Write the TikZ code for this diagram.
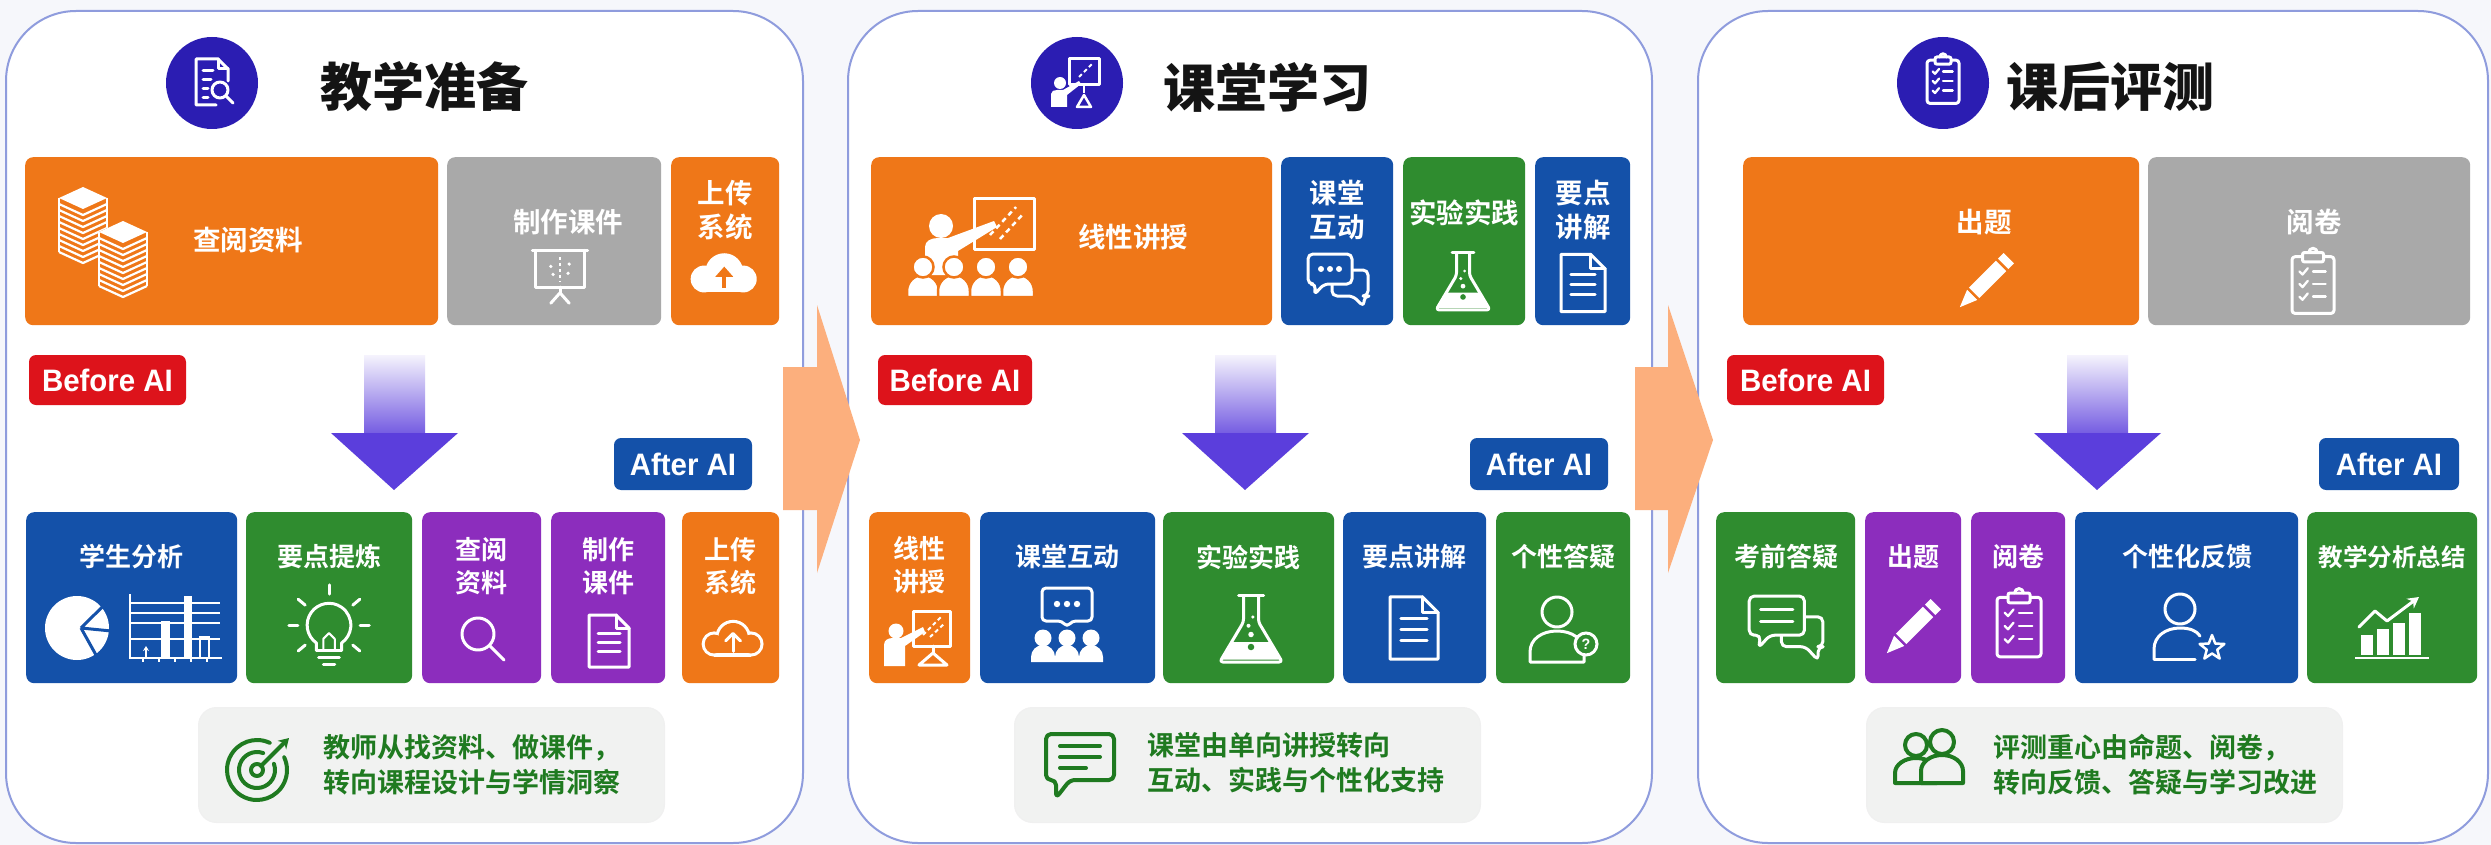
\documentclass[tikz,border=0pt]{standalone}
\usepackage{fontspec}
\setmainfont{Liberation Sans}
\newfontfamily\cjk{Noto Sans CJK SC Bold}
\newfontfamily\cjkheavy{Noto Sans CJK SC Black}
\newfontfamily\tagfont{Liberation Sans Bold}[FakeStretch=0.95]
\usetikzlibrary{calc,arrows.meta}

\definecolor{bgc}{HTML}{F6F7FB}
\definecolor{panelline}{HTML}{8F9CDD}
\definecolor{cOrange}{HTML}{EF7718}
\definecolor{cGray}{HTML}{A9A9A9}
\definecolor{cBlue}{HTML}{1451A9}
\definecolor{cGreen}{HTML}{2F8C2F}
\definecolor{cPurple}{HTML}{8C2DBD}
\definecolor{cRed}{HTML}{DD131B}
\definecolor{cIndigo}{HTML}{2B1DB2}
\definecolor{cArrow}{HTML}{5B3EDC}
\definecolor{cPeach}{HTML}{FCAF7D}
\definecolor{cSum}{HTML}{F1F2F1}
\definecolor{cSumText}{HTML}{1F7A20}
\definecolor{cTitle}{HTML}{141414}

\tikzset{
  panel/.style={draw=panelline, line width=2pt, fill=white, rounded corners=70pt,
    minimum width=#1, minimum height=832, anchor=north west, inner sep=0pt},
  tile/.style={rounded corners=8pt, inner sep=0pt},
  badge/.style={circle, fill=cIndigo, minimum size=92, inner sep=0pt},
  ttl/.style={anchor=west, inner sep=0pt, text=cTitle, font=\cjkheavy\fontsize{52}{60}\selectfont},
  lbl/.style={inner sep=0pt, text=white, align=center, font=\cjk\fontsize{26}{33}\selectfont},
  lblt/.style={lbl, font=\cjk\fontsize{27.5}{34}\selectfont},
  tag/.style={rounded corners=7pt, inner sep=0pt, text=white, minimum height=50,
    font=\tagfont\fontsize{31}{31}\selectfont},
  sumbox/.style={fill=cSum, draw=black!6, line width=1pt, rounded corners=18pt,
    anchor=north west, minimum height=115, inner sep=0pt},
  sumtxt/.style={anchor=west, inner sep=0pt, text=cSumText, align=left,
    font=\cjk\fontsize{27}{35}\selectfont},
  ic/.style={draw=white, line width=3pt, line cap=round, line join=round},
  gic/.style={draw=cSumText, line width=4pt, line cap=round, line join=round},
  ico/.style={yscale=-1},
  % ---------- icons, drawn with y pointing up ----------
  pics/paperstack/.style={code={
    \foreach \sx/\sy in {-20/42, 20/8} {
      \begin{scope}[shift={(\sx,\sy)}]
        \fill[#1] (-24,0) -- (0,11) -- (24,0) -- (24,-56) -- (0,-67) -- (-24,-56) -- cycle;
        \fill[white] (-24,0) -- (0,11) -- (24,0) -- (0,-11) -- cycle;
        \foreach \k in {1,...,9}
          \draw[white, line width=2.2pt, line join=round] (-24,-6*\k) -- (0,-6*\k-11) -- (24,-6*\k);
        \draw[white, line width=2.2pt] (-24,0) -- (-24,-54) (24,0) -- (24,-54);
      \end{scope}
    }
  }},
  pics/easel/.style={code={
    \draw[ic] (-24,18) -- (24,18);
    \draw[ic] (-21,18) -- (-21,-14) -- (21,-14) -- (21,18);
    \draw[ic] (0,-14) -- (0,-19);
    \draw[ic] (-8,-28) -- (0,-19) -- (8,-28);
    \draw[white, line width=2pt, dash pattern=on 3pt off 3pt] (0,12) -- (0,-9);
    \fill[white] (-8,4) circle (1.6) (-6,-3) circle (1.6) (8,6) circle (1.6) (7,-2) circle (1.6);
  }},
  pics/cloudfill/.style={code={
    \fill[white] (-16,0) circle (12);
    \fill[white] (2,6) circle (17);
    \fill[white] (19,0) circle (12);
    \fill[white] (-16,-12) rectangle (19,2);
    \draw[#1, line width=4pt] (2,-8) -- (2,4);
    \fill[#1] (-6,2) -- (2,11) -- (10,2) -- cycle;
  }},
  pics/cloudline/.style={code={
    \fill[white] (-16,0) circle (12);
    \fill[white] (2,6) circle (17);
    \fill[white] (19,0) circle (12);
    \fill[white] (-16,-12) rectangle (19,2);
    \fill[#1] (-16,0) circle (9);
    \fill[#1] (2,6) circle (14);
    \fill[#1] (19,0) circle (9);
    \fill[#1] (-16,-9) rectangle (19,2);
    \draw[ic] (2,-7) -- (2,9);
    \draw[ic] (-5,3) -- (2,10) -- (9,3);
  }},
  pics/docicon/.style={code={
    \draw[ic] (-20,26) -- (7,26) -- (20,13) -- (20,-26) -- (-20,-26) -- cycle;
    \draw[ic] (7,26) -- (7,13) -- (20,13);
    \draw[ic] (-11,8) -- (11,8) (-11,-1) -- (11,-1) (-11,-10) -- (11,-10);
  }},
  pics/magnifier/.style={code={
    \draw[ic] (-6,6) circle (16);
    \draw[ic] (5.5,-5.5) -- (20,-20);
  }},
  pics/bulb/.style={code={
    \draw[ic] (-10.9,-16) -- (-10.9,-9.6) arc[start angle=235, end angle=-55, radius=19] -- (10.9,-16);
    \draw[ic] (-10.9,-16) -- (10.9,-16) (-9,-22) -- (9,-22) (-5,-28) -- (5,-28);
    \draw[white, line width=2pt, line join=round] (-5,-16) -- (-5,-6) -- (0,-1) -- (5,-6) -- (5,-16);
    \begin{scope}[shift={(0,6)}]
      \foreach \a in {90,40,140,0,180,-40,220} \draw[ic] (\a:27) -- (\a:35);
    \end{scope}
  }},
  pics/pie/.style={code={
    \fill[white] (0,0) circle (32);
    \draw[#1, line width=3pt] (4,0) -- (40:34) (4,0) -- (-5:34) (4,0) -- (-55:34);
  }},
  pics/barchart/.style={code={
    \draw[white, line width=1.6pt] (-43,24) -- (47,24) (-43,14) -- (47,14) (-43,4) -- (47,4) (-43,-12) -- (47,-12);
    \draw[white, line width=2.5pt] (-43,33) -- (-43,-31) -- (49,-31);
    \foreach \tx in {-30,-14,2,18,34} \draw[white, line width=1.6pt] (\tx,-31) -- (\tx,-35);
    \fill[white] (-12,-31) rectangle (-3,6);
    \fill[white] (11,-31) rectangle (19,31);
    \draw[white, line width=2pt] (27,-31) -- (27,-10) -- (36,-10) -- (36,-31);
    \draw[white, line width=2pt, -{Stealth[length=5pt,width=6pt]}] (-27,-31) -- (-27,-19);
  }},
  pics/teachgroup/.style={code={
    \draw[ic] (2,-2) rectangle (62,48);
    \draw[white, line width=2.5pt, dash pattern=on 5pt off 4pt] (18,12) -- (44,40) (28,8) -- (52,34);
    \fill[white] (-31,21) circle (12);
    \fill[white] (-47,-28) -- (-47,0) .. controls (-47,6) and (-41,9) .. (-34,9) -- (-24,9)
      -- (22,26) -- (25,20) -- (-14,-4) -- (-14,-28) -- cycle;
    \foreach \px in {-49,-18,14,46} {
      \filldraw[fill=white, draw=#1, line width=2.5pt] (\px-16,-50) -- (\px-16,-44)
        arc[start angle=180, end angle=0, radius=16] -- (\px+16,-50) -- cycle;
      \filldraw[fill=white, draw=#1, line width=2.5pt] (\px,-20) circle (10.5);
    }
  }},
  pics/smallteach/.style={code={
    \draw[ic] (-2,-9) rectangle (35,26);
    \draw[white, line width=2pt, dash pattern=on 4pt off 3pt] (8,2) -- (26,20) (15,0) -- (30,14);
    \draw[ic] (18,-9) -- (18,-16);
    \draw[ic] (4,-28) -- (18,-16) -- (32,-28) -- cycle;
    \fill[white] (-19,6) circle (7.5);
    \fill[white] (-31,-29) -- (-31,-8) .. controls (-31,-3) and (-27,-1) .. (-22,-1) -- (-14,-1)
      -- (8,10) -- (10,5) -- (-10,-9) -- (-10,-29) -- cycle;
  }},
  pics/chat2/.style={code={
    \filldraw[fill=#1, draw=white, line width=3pt, line join=round, rounded corners=5pt]
      (-6,10) -- (30,10) -- (30,-16) -- (26,-16) -- (26,-27) -- (15,-16) -- (-6,-16) -- cycle;
    \filldraw[fill=#1, draw=white, line width=3pt, line join=round, rounded corners=5pt]
      (-30,26) -- (14,26) -- (14,-4) -- (-14,-4) -- (-24,-15) -- (-22,-4) -- (-30,-4) -- cycle;
    \fill[white] (-17,11) circle (3) (-8,11) circle (3) (1,11) circle (3);
  }},
  pics/chatlines/.style={code={
    \filldraw[fill=#1, draw=white, line width=3pt, line join=round, rounded corners=5pt]
      (-4,8) -- (32,8) -- (32,-18) -- (28,-18) -- (28,-30) -- (17,-18) -- (-4,-18) -- cycle;
    \filldraw[fill=#1, draw=white, line width=3pt, line join=round, rounded corners=5pt]
      (-32,26) -- (16,26) -- (16,-8) -- (-14,-8) -- (-24,-19) -- (-22,-8) -- (-32,-8) -- cycle;
    \draw[ic] (-22,14) -- (6,14) (-22,4) -- (6,4);
  }},
  pics/chatpeople/.style={code={
    \draw[ic, rounded corners=4pt] (-25,5) -- (-5,5) -- (0,-1) -- (5,5) -- (25,5) -- (25,38) -- (-25,38) -- cycle;
    \fill[white] (-10,22) circle (3.2) (0,22) circle (3.2) (10,22) circle (3.2);
    \foreach \px in {-24,0,24} {
      \fill[white] (\px,-12) circle (8.5);
      \fill[white] (\px-12,-36) -- (\px-12,-31) arc[start angle=180, end angle=0, radius=12] -- (\px+12,-36) -- cycle;
    }
  }},
  pics/flask/.style={code={
    \fill[white] (-15.5,-8) -- (15.5,-8) -- (23,-22) -- (-23,-22) -- cycle;
    \draw[ic] (-10,29) -- (10,29);
    \draw[ic, rounded corners=3pt] (-6,29) -- (-6,8) -- (-25,-24) -- (25,-24) -- (6,8) -- (6,29);
    \fill[#1] (0,-12) circle (2.6);
    \fill[white] (0,-2) circle (2.2) (-2,5) circle (1.6) (1.5,12) circle (1.4);
  }},
  pics/personq/.style={code={
    \draw[ic] (-7,18) circle (15);
    \draw[ic] (-34,-32) -- (-34,-22) .. controls (-34,-9) and (-22,-1) .. (-7,-1)
      .. controls (8,-1) and (20,-9) .. (20,-22) -- (20,-32) -- cycle;
    \filldraw[fill=#1, draw=white, line width=3pt] (22,-14) circle (11);
    \node[text=white, inner sep=0pt, font=\tagfont\fontsize{15}{15}\selectfont] (qmk) at (22,-14) {?};
  }},
  pics/personstar/.style={code={
    \draw[ic] (-6,18) circle (15);
    \draw[ic] (-32,-32) -- (-32,-22) .. controls (-32,-9) and (-20,-1) .. (-6,-1)
      .. controls (4,-1) and (11,-4) .. (14,-9);
    \draw[ic] (-32,-32) -- (9,-32);
    \begin{scope}[shift={(26,-21)}]
      \draw[white, line width=2.5pt, line join=round] (90:13) -- (126:5.5) -- (162:13) -- (198:5.5)
        -- (234:13) -- (270:5.5) -- (306:13) -- (342:5.5) -- (18:13) -- (54:5.5) -- cycle;
    \end{scope}
  }},
  % the tip points to the lower left
  pics/pencil/.style={code={
    \begin{scope}[rotate=-45]
      \fill[white] (-20,-7) rectangle (28,7);
      \fill[white] (-21,-7) -- (-38,0) -- (-21,7) -- cycle;
      \draw[#1, line width=2.5pt] (-20,-8) -- (-20,8);
      \draw[#1, line width=2.5pt] (19,-8) -- (19,8);
    \end{scope}
  }},
  pics/clipboard/.style={code={
    \draw[ic, rounded corners=3pt] (-20,26) -- (-20,-28) -- (20,-28) -- (20,26) -- cycle;
    \filldraw[fill=#1, draw=white, line width=3pt, rounded corners=2pt] (-10,21) rectangle (10,30);
    \draw[ic] (-4,30) arc[start angle=180, end angle=0, radius=4];
    \foreach \yy in {12,0,-12} {
      \draw[white, line width=2.3pt, line cap=round, line join=round] (-13,\yy) -- (-10,\yy-3) -- (-5,\yy+3);
      \draw[white, line width=2.3pt, line cap=round] (0,\yy) -- (12,\yy);
    }
  }},
  pics/trendbars/.style={code={
    \fill[white] (-32,-28) rectangle (-20,-8);
    \fill[white] (-16,-28) rectangle (-4,-2);
    \fill[white] (0,-28) rectangle (12,4);
    \fill[white] (16,-28) rectangle (28,14);
    \draw[white, line width=2.5pt] (-38,-31) -- (36,-31);
    \draw[ic, -{Stealth[length=11pt, width=12pt]}] (-34,0) -- (-18,16) -- (-6,6) -- (26,30);
  }},
  pics/ttldoc/.style={code={
    \draw[ic] (4,-22) -- (-16,-22) -- (-16,24) -- (6,24) -- (16,14) -- (16,2);
    \draw[ic] (6,24) -- (6,14) -- (16,14);
    \draw[ic] (-9,12) -- (1,12) (-9,3) -- (-1,3) (-9,-6) -- (-4,-6) (-9,-15) -- (-4,-15);
    \draw[ic] (8,-7) circle (8);
    \draw[ic] (14,-13) -- (21,-20);
  }},
  pics/ttlteach/.style={code={
    \draw[ic] (-8,-2) rectangle (22,24);
    \draw[white, line width=2pt, dash pattern=on 4pt off 3pt] (2,6) -- (15,19);
    \fill[white] (-17,0) circle (6);
    \fill[white] (-26,-24) -- (-26,-11) .. controls (-26,-8) and (-23,-7) .. (-20,-7) -- (-14,-7)
      -- (2,2) -- (4,-1) -- (-10,-12) -- (-10,-24) -- cycle;
    \draw[white, line width=2.5pt] (7,-2) -- (7,-10);
    \draw[white, line width=2.5pt, line join=round] (0,-24) -- (7,-12) -- (14,-24) -- cycle;
  }},
  pics/target/.style={code={
    \draw[gic] (65:30) arc[start angle=65, end angle=385, radius=30];
    \draw[gic] (70:18) arc[start angle=70, end angle=380, radius=18];
    \draw[gic] (0,0) circle (6);
    \draw[gic, -{Stealth[length=10pt, width=12pt]}] (4,4) -- (32,32);
  }},
  pics/bubblelines/.style={code={
    \draw[gic, rounded corners=5pt] (-10,-14) -- (34,-14) -- (34,32) -- (-34,32) -- (-34,-14)
      -- (-24,-14) -- (-24,-32) -- cycle;
    \draw[gic] (-20,20) -- (20,20) (-20,9) -- (20,9) (-20,-2) -- (6,-2);
  }},
  pics/twopeople/.style={code={
    \draw[gic] (-14,13) circle (11);
    \draw[gic] (-35,-25) -- (-35,-15) arc[start angle=180, end angle=0, x radius=21, y radius=15] -- (7,-25) -- cycle;
    \filldraw[gic, fill=cSum] (-9,-25) -- (-9,-13) arc[start angle=180, end angle=0, x radius=21, y radius=16] -- (33,-25) -- cycle;
    \filldraw[gic, fill=cSum] (12,16) circle (12);
  }},
}

% a tile: name, left, top, right, bottom, colour
\newcommand\tilebox[6]{\node[tile, fill=#6, anchor=north west, minimum width={(#4)-(#2)},
  minimum height={(#5)-(#3)}] (#1) at (#2,#3) {};}
% a downward arrow starting at a named coordinate
\newcommand\downarr[1]{%
  \shade[top color=cArrow!6, bottom color=cArrow!85] ($(#1)+(-30,0)$) rectangle ($(#1)+(31,79)$);
  \fill[cArrow] ($(#1)+(-63,78)$) -- ($(#1)+(64,78)$) -- ($(#1)+(0,135)$) -- cycle;}

\begin{document}
\begin{tikzpicture}[x=1pt, y=-1pt]
\fill[bgc] (0,0) rectangle (2491,845);
\useasboundingbox (0,0) rectangle (2491,845);

% ---------------- panels ----------------
\node[panel=797] (pan1) at (5,10) {};
\node[panel=804] (pan2) at (847,10) {};
\node[panel=790] (pan3) at (1697,10) {};

% stage arrows between the panels
\fill[cPeach] (783,367) -- (817,367) -- (817,305) -- (860,440) -- (817,573) -- (817,510) -- (783,510) -- cycle;
\fill[cPeach] (1635,367) -- (1668,367) -- (1668,305) -- (1713,440) -- (1668,573) -- (1668,510) -- (1635,510) -- cycle;

% ================= panel 1 =================
\node[badge] (bd1) at (212,83) {};
\pic[ico] at (212,83) {ttldoc};
\node[ttl] (tt1) at (320,87) {教学准备};

\tilebox{a11}{25}{157}{438}{325}{cOrange}
\tilebox{a12}{447}{157}{661}{325}{cGray}
\tilebox{a13}{671}{157}{779}{325}{cOrange}
\pic[ico] at (103,240) {paperstack=cOrange};
\node[lblt] (l11) at (248,240) {查阅资料};
\node[lblt] (l12) at (568,222) {制作课件};
\pic[ico, scale=1.15] at (560,271) {easel};
\node[lblt] (l13) at (725,210) {上传\\系统};
\pic[ico, scale=1.12] at (722,279) {cloudfill=cOrange};

\node[tag, fill=cRed, minimum width=157] (bf1) at (107.5,380) {Before AI};
\coordinate (d1) at (394,355);
\downarr{d1}
\node[tag, fill=cBlue, minimum width=138, minimum height=52] (af1) at (683,464) {After AI};

\tilebox{b11}{26}{512}{237}{683}{cBlue}
\tilebox{b12}{246}{512}{412}{683}{cGreen}
\tilebox{b13}{422}{512}{541}{683}{cPurple}
\tilebox{b14}{551}{512}{665}{683}{cPurple}
\tilebox{b15}{682}{512}{779}{683}{cOrange}
\node[lbl] (m11) at (131,557) {学生分析};
\pic[ico] at (77,628) {pie=cBlue};
\pic[ico] at (173,627) {barchart};
\node[lbl] (m12) at (329,557) {要点提炼};
\pic[ico, scale=1.15] at (329,632) {bulb};
\node[lbl] (m13) at (481,566) {查阅\\资料};
\pic[ico] at (484,640) {magnifier};
\node[lbl] (m14) at (608,566) {制作\\课件};
\pic[ico] at (609,641) {docicon};
\node[lbl] (m15) at (730,566) {上传\\系统};
\pic[ico, scale=1.05] at (731,644) {cloudline=cOrange};

\node[sumbox, minimum width=466] (s1) at (198,707) {};
\pic[ico] at (257,770) {target};
\node[sumtxt] (w1) at (323,765) {教师从找资料、做课件，\\转向课程设计与学情洞察};

% ================= panel 2 =================
\node[badge] (bd2) at (1077,83) {};
\pic[ico] at (1077,83) {ttlteach};
\node[ttl] (tt2) at (1163,87) {课堂学习};

\tilebox{a21}{871}{157}{1272}{325}{cOrange}
\tilebox{a22}{1281}{157}{1393}{325}{cBlue}
\tilebox{a23}{1403}{157}{1525}{325}{cGreen}
\tilebox{a24}{1535}{157}{1630}{325}{cBlue}
\pic[ico] at (972,247) {teachgroup=cOrange};
\node[lblt] (l21) at (1133,237) {线性讲授};
\node[lblt] (l22) at (1337,210) {课堂\\互动};
\pic[ico] at (1338,280) {chat2=cBlue};
\node[lblt] (l23) at (1464,213) {实验实践};
\pic[ico, scale=1.08] at (1463,284) {flask=cGreen};
\node[lblt] (l24) at (1583,210) {要点\\讲解};
\pic[ico, scale=1.1] at (1583,283) {docicon};

\node[tag, fill=cRed, minimum width=154] (bf2) at (955,380) {Before AI};
\coordinate (d2) at (1245,355);
\downarr{d2}
\node[tag, fill=cBlue, minimum width=138, minimum height=52] (af2) at (1539,464) {After AI};

\tilebox{b21}{869}{512}{970}{683}{cOrange}
\tilebox{b22}{980}{512}{1155}{683}{cBlue}
\tilebox{b23}{1163}{512}{1334}{683}{cGreen}
\tilebox{b24}{1343}{512}{1486}{683}{cBlue}
\tilebox{b25}{1496}{512}{1630}{683}{cGreen}
\node[lbl] (m21) at (919,565) {线性\\讲授};
\pic[ico] at (915,637) {smallteach};
\node[lbl] (m22) at (1067,557) {课堂互动};
\pic[ico] at (1067,626) {chatpeople};
\node[lbl] (m23) at (1248,557) {实验实践};
\pic[ico, scale=1.25] at (1251,632) {flask=cGreen};
\node[lbl] (m24) at (1414,557) {要点讲解};
\pic[ico, scale=1.2] at (1414,628) {docicon};
\node[lbl] (m25) at (1563,557) {个性答疑};
\pic[ico] at (1564,630) {personq=cGreen};

\node[sumbox, minimum width=466] (s2) at (1014,707) {};
\pic[ico] at (1080,766) {bubblelines};
\node[sumtxt] (w2) at (1147,763) {课堂由单向讲授转向\\互动、实践与个性化支持};

% ================= panel 3 =================
\node[badge] (bd3) at (1943,83) {};
\pic[ico, scale=0.8] at (1943,81) {clipboard=cIndigo};
\node[ttl] (tt3) at (2006,87) {课后评测};

\tilebox{a31}{1743}{157}{2139}{325}{cOrange}
\tilebox{a32}{2148}{157}{2470}{325}{cGray}
\node[lblt] (l31) at (1984,222) {出题};
\pic[ico, scale=1.05] at (1988,279) {pencil=cOrange};
\node[lblt] (l32) at (2314,222) {阅卷};
\pic[ico, scale=1.05] at (2313,284) {clipboard=cGray};

\node[tag, fill=cRed, minimum width=157] (bf3) at (1805.5,380) {Before AI};
\coordinate (d3) at (2097,355);
\downarr{d3}
\node[tag, fill=cBlue, minimum width=140, minimum height=52] (af3) at (2389,464) {After AI};

\tilebox{b31}{1716}{512}{1855}{683}{cGreen}
\tilebox{b32}{1865}{512}{1961}{683}{cPurple}
\tilebox{b33}{1971}{512}{2065}{683}{cPurple}
\tilebox{b34}{2075}{512}{2298}{683}{cBlue}
\tilebox{b35}{2307}{512}{2477}{683}{cGreen}
\node[lbl] (m31) at (1786,557) {考前答疑};
\pic[ico, scale=1.15] at (1786,626) {chatlines=cGreen};
\node[lbl] (m32) at (1913,557) {出题};
\pic[ico, scale=1.05] at (1915,625) {pencil=cPurple};
\node[lbl] (m33) at (2018,557) {阅卷};
\pic[ico, scale=1.1] at (2019,626) {clipboard=cPurple};
\node[lbl] (m34) at (2187,557) {个性化反馈};
\pic[ico] at (2186,627) {personstar=cBlue};
\node[lbl, font=\cjk\fontsize{24.5}{30}\selectfont] (m35) at (2392,557) {教学分析总结};
\pic[ico] at (2393,627) {trendbars};

\node[sumbox, minimum width=476] (s3) at (1866,707) {};
\pic[ico] at (1930,758) {twopeople};
\node[sumtxt] (w3) at (1993,765) {评测重心由命题、阅卷，\\转向反馈、答疑与学习改进};
\end{tikzpicture}
\end{document}
